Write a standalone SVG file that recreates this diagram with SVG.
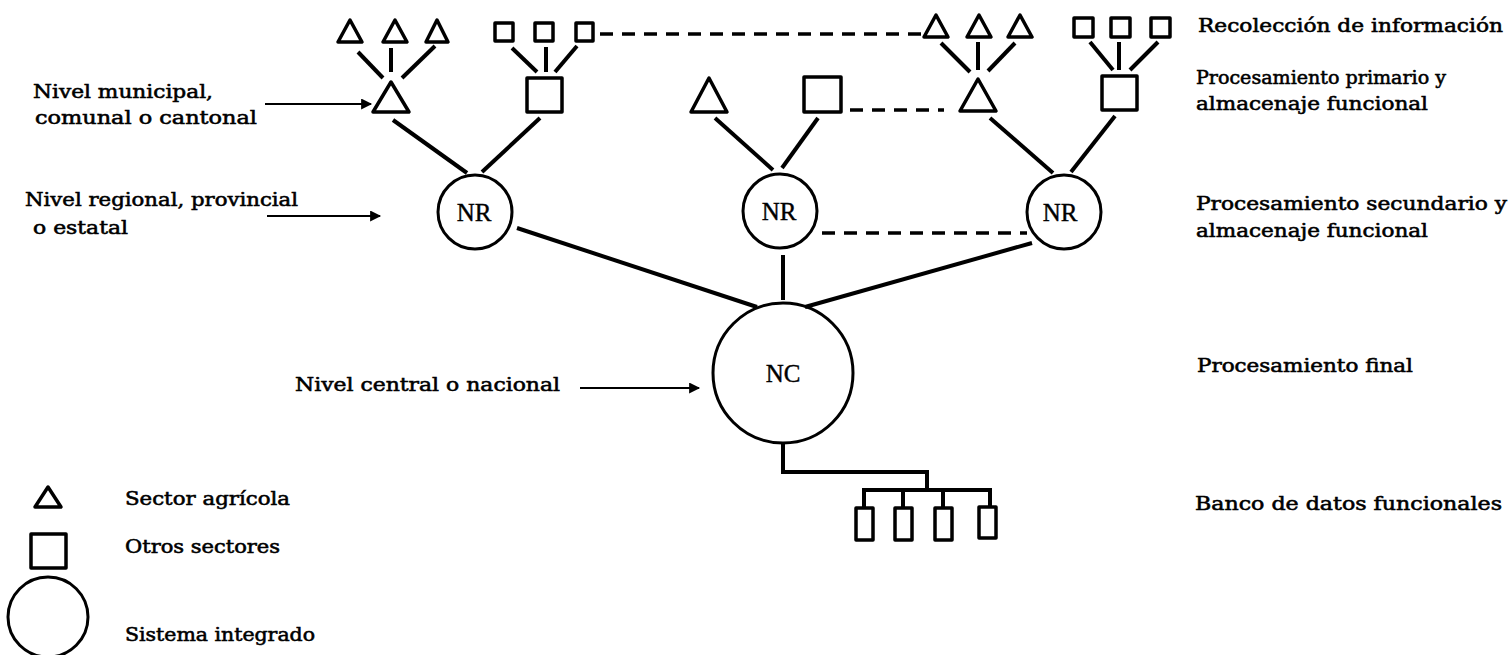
<svg xmlns="http://www.w3.org/2000/svg" width="1510" height="655" viewBox="0 0 1510 655">
  <defs>
    <style>
      .shape { fill: none; stroke: #000; stroke-width: 3.5; stroke-linejoin: round; }
      .small { fill: none; stroke: #000; stroke-width: 3.5; stroke-linejoin: round; }
      .ring { fill: none; stroke: #000; stroke-width: 3; }
      .link { stroke: #000; stroke-width: 4; fill: none; stroke-linecap: butt; }
      .dash { stroke: #000; stroke-width: 3.5; fill: none; stroke-dasharray: 13 9; }
      .arrow { stroke: #000; stroke-width: 2.2; fill: none; }
      .lbl { font-family: "DejaVu Serif", "Liberation Serif", serif; font-size: 18px; fill: #000; stroke: #000; stroke-width: 0.55; }
      .node { font-family: "Liberation Serif", "Times New Roman", serif; font-size: 25px; fill: #000; stroke: #000; stroke-width: 0.4; text-anchor: middle; }
    </style>
    <marker id="head" viewBox="0 0 10 10" refX="9" refY="5" markerWidth="12" markerHeight="11" markerUnits="userSpaceOnUse" orient="auto">
      <path d="M0,0 L10,5 L0,10 z" fill="#000"/>
    </marker>
  </defs>
  <rect width="1510" height="655" fill="#fff"/>

  <!-- connectors -->
  <g id="connectors">
    <!-- collection level to primary level, left -->
    <line class="link" x1="358" y1="52" x2="383" y2="78"/>
    <line class="link" x1="391" y1="48" x2="391" y2="72"/>
    <line class="link" x1="435" y1="46" x2="402" y2="78"/>
    <line class="link" x1="512" y1="48" x2="537" y2="72"/>
    <line class="link" x1="546" y1="47" x2="546" y2="72"/>
    <line class="link" x1="577" y1="46" x2="555" y2="72"/>
    <!-- collection level to primary level, right -->
    <line class="link" x1="941" y1="43" x2="970" y2="72"/>
    <line class="link" x1="978" y1="42" x2="978" y2="70"/>
    <line class="link" x1="1015" y1="43" x2="988" y2="71"/>
    <line class="link" x1="1090" y1="42" x2="1113" y2="70"/>
    <line class="link" x1="1119" y1="42" x2="1119" y2="70"/>
    <line class="link" x1="1158" y1="42" x2="1130" y2="70"/>
    <!-- primary level to regional nodes -->
    <line class="link" x1="393" y1="120" x2="467" y2="173"/>
    <line class="link" x1="540" y1="118" x2="482" y2="172"/>
    <line class="link" x1="715" y1="118" x2="773" y2="170"/>
    <line class="link" x1="818" y1="118" x2="782" y2="168"/>
    <line class="link" x1="990" y1="118" x2="1053" y2="173"/>
    <line class="link" x1="1115" y1="116" x2="1071" y2="172"/>
    <!-- regional nodes to central node -->
    <line class="link" x1="517" y1="228" x2="757" y2="307"/>
    <line class="link" x1="783" y1="255" x2="783" y2="300"/>
    <line class="link" x1="1032" y1="243" x2="805" y2="307"/>
    <!-- horizontal exchange links -->
    <line class="dash" x1="600" y1="34" x2="924" y2="34"/>
    <line class="dash" x1="850" y1="110" x2="944" y2="110"/>
    <line class="dash" x1="822" y1="233" x2="1027" y2="233"/>
    <!-- central node to data banks -->
    <path class="link" d="M783,443 V472 H927 V490"/>
    <path class="link" d="M864,508 V490 H990 V508"/>
    <line class="link" x1="903" y1="490" x2="903" y2="508"/>
    <line class="link" x1="943" y1="490" x2="943" y2="508"/>
    <!-- level pointers -->
    <line class="arrow" x1="265" y1="104" x2="371" y2="104" marker-end="url(#head)"/>
    <line class="arrow" x1="267" y1="216" x2="380" y2="216" marker-end="url(#head)"/>
    <line class="arrow" x1="580" y1="388" x2="699" y2="388" marker-end="url(#head)"/>
  </g>

  <!-- collection units, left -->
  <g id="collect-left-agri">
    <polygon class="small" points="350,20 362,42 338,42"/>
    <polygon class="small" points="395,20 407,42 383,42"/>
    <polygon class="small" points="437,20 448,42 426,42"/>
  </g>
  <g id="collect-left-other">
    <rect class="small" x="495" y="23" width="18" height="18"/>
    <rect class="small" x="535" y="23" width="18" height="18"/>
    <rect class="small" x="576" y="23" width="17" height="18"/>
  </g>
  <!-- collection units, right -->
  <g id="collect-right-agri">
    <polygon class="small" points="936,15 948,37 924,37"/>
    <polygon class="small" points="979,15 991,37 967,37"/>
    <polygon class="small" points="1020,15 1032,37 1008,37"/>
  </g>
  <g id="collect-right-other">
    <rect class="small" x="1074" y="18" width="19" height="19"/>
    <rect class="small" x="1111" y="18" width="19" height="19"/>
    <rect class="small" x="1151" y="18" width="19" height="19"/>
  </g>

  <!-- primary processing units -->
  <g id="primary-left-agri"><polygon class="shape" points="391,82 409,112 373,112"/></g>
  <g id="primary-left-other"><rect class="shape" x="527" y="78" width="35" height="34"/></g>
  <g id="primary-mid-agri"><polygon class="shape" points="709,78 727,112 691,112"/></g>
  <g id="primary-mid-other"><rect class="shape" x="804" y="77" width="37" height="35"/></g>
  <g id="primary-right-agri"><polygon class="shape" points="978,79 996,111 960,111"/></g>
  <g id="primary-right-other"><rect class="shape" x="1102" y="76" width="35" height="34"/></g>

  <!-- regional nodes -->
  <g id="nr-left"><circle class="ring" cx="475" cy="212" r="37"/><text class="node" x="474" y="221">NR</text></g>
  <g id="nr-mid"><circle class="ring" cx="780" cy="211" r="37"/><text class="node" x="779" y="220">NR</text></g>
  <g id="nr-right"><circle class="ring" cx="1064" cy="212" r="37"/><text class="node" x="1060" y="221">NR</text></g>

  <!-- central node -->
  <g id="nc"><circle class="ring" cx="783" cy="373" r="70"/><text class="node" x="783" y="382">NC</text></g>

  <!-- functional data banks -->
  <g id="data-banks">
    <rect class="shape" x="856" y="508" width="17" height="32"/>
    <rect class="shape" x="895" y="508" width="17" height="32"/>
    <rect class="shape" x="935" y="508" width="17" height="32"/>
    <rect class="shape" x="979" y="507" width="17" height="31"/>
  </g>

  <!-- level labels, left -->
  <g id="labels-left">
    <text class="lbl" x="33" y="98" textLength="180" lengthAdjust="spacingAndGlyphs">Nivel municipal,</text>
    <text class="lbl" x="35" y="124" textLength="222" lengthAdjust="spacingAndGlyphs">comunal o cantonal</text>
    <text class="lbl" x="25" y="206" textLength="273" lengthAdjust="spacingAndGlyphs">Nivel regional, provincial</text>
    <text class="lbl" x="33" y="234" textLength="95" lengthAdjust="spacingAndGlyphs">o estatal</text>
    <text class="lbl" x="295" y="391" textLength="265" lengthAdjust="spacingAndGlyphs">Nivel central o nacional</text>
  </g>

  <!-- function labels, right -->
  <g id="labels-right">
    <text class="lbl" x="1198" y="32" textLength="305" lengthAdjust="spacingAndGlyphs">Recolección de información</text>
    <text class="lbl" x="1196" y="84" textLength="250" lengthAdjust="spacingAndGlyphs">Procesamiento primario y</text>
    <text class="lbl" x="1196" y="110" textLength="232" lengthAdjust="spacingAndGlyphs">almacenaje funcional</text>
    <text class="lbl" x="1196" y="210" textLength="311" lengthAdjust="spacingAndGlyphs">Procesamiento secundario y</text>
    <text class="lbl" x="1196" y="237" textLength="232" lengthAdjust="spacingAndGlyphs">almacenaje funcional</text>
    <text class="lbl" x="1197" y="372" textLength="216" lengthAdjust="spacingAndGlyphs">Procesamiento final</text>
    <text class="lbl" x="1195" y="510" textLength="307" lengthAdjust="spacingAndGlyphs">Banco de datos funcionales</text>
  </g>

  <!-- legend -->
  <g id="legend">
    <polygon class="shape" points="48,487 61,507 35,507"/>
    <rect class="shape" x="31" y="534" width="35" height="34"/>
    <circle class="ring" cx="48" cy="617" r="40"/>
    <text class="lbl" x="125" y="505" textLength="165" lengthAdjust="spacingAndGlyphs">Sector agrícola</text>
    <text class="lbl" x="125" y="553" textLength="155" lengthAdjust="spacingAndGlyphs">Otros sectores</text>
    <text class="lbl" x="125" y="641" textLength="190" lengthAdjust="spacingAndGlyphs">Sistema integrado</text>
  </g>
</svg>
